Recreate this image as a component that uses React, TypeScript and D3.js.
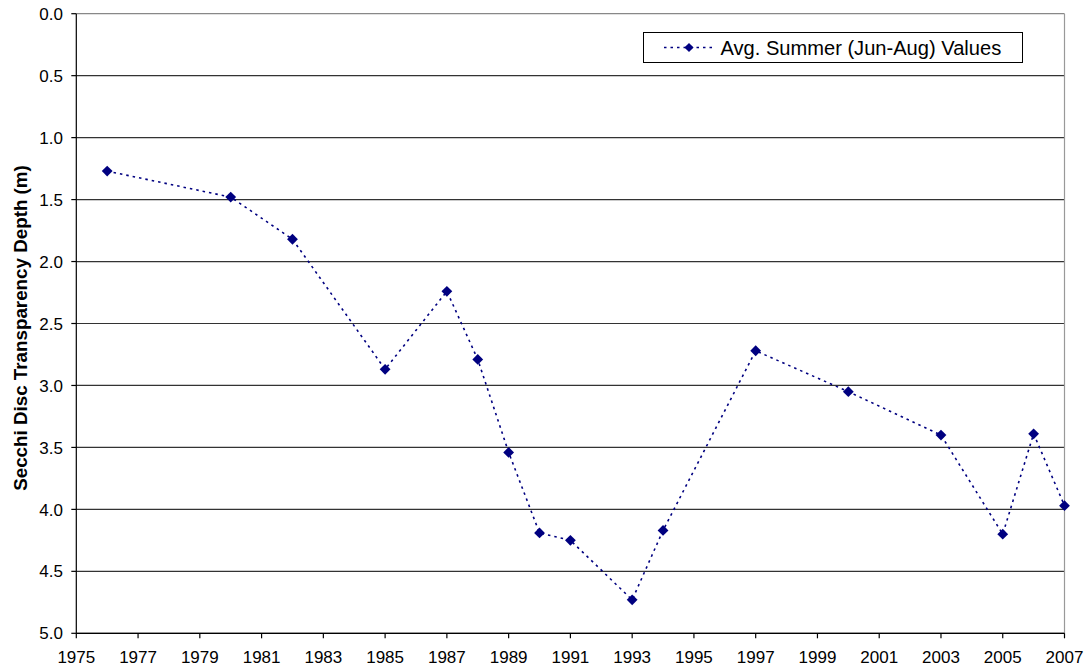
import React from "react";
import * as d3 from "d3";

const years = [1976, 1980, 1982, 1985, 1987, 1988, 1989, 1990, 1991, 1993, 1994, 1997, 2000, 2003, 2005, 2006, 2007];
const depths = [1.27, 1.48, 1.82, 2.87, 2.24, 2.79, 3.54, 4.19, 4.25, 4.73, 4.17, 2.72, 3.05, 3.4, 4.2, 3.39, 3.97];
const yTicks = [0, 0.5, 1, 1.5, 2, 2.5, 3, 3.5, 4, 4.5, 5];
const xTicks = [1975, 1977, 1979, 1981, 1983, 1985, 1987, 1989, 1991, 1993, 1995, 1997, 1999, 2001, 2003, 2005, 2007];
const seriesName = "Avg. Summer (Jun-Aug) Values";
const yTitle = "Secchi Disc Transparency Depth (m)";

const W = 1086, H = 669;
const left = 76.3, right = 1064.5, top = 13.7, bottom = 633.3;
const font = "'Liberation Sans', Arial, sans-serif";
const navy = "#000080";

export default function App() {
  const x = d3.scaleLinear().domain([1975, 2007]).range([left, right]);
  const y = d3.scaleLinear().domain([0, 5]).range([top, bottom]);
  const pts = years.map((yr, i) => [x(yr), y(depths[i])] as [number, number]);
  const line = d3.line()(pts) || "";
  const diamond = (cx: number, cy: number, r = 5.4) =>
    `M${cx},${cy - r}L${cx + r},${cy}L${cx},${cy + r}L${cx - r},${cy}Z`;

  return (
    <svg width={W} height={H} style={{ position: "fixed", left: 0, top: 0, background: "#fff" }} fontFamily={font}>
      {yTicks.map((t) => (
        <g key={t}>
          <line x1={left} x2={right} y1={y(t)} y2={y(t)} stroke={t === 0 ? "#888" : "#333"} strokeWidth={1.2} />
          <line x1={left - 5} x2={left} y1={y(t)} y2={y(t)} stroke="#000" strokeWidth={1.2} />
          <text x={63} y={y(t)} dy="0.36em" textAnchor="end" fontSize={17} fill="#000">
            {t.toFixed(1)}
          </text>
        </g>
      ))}
      <line x1={right} x2={right} y1={top} y2={bottom} stroke="#999" strokeWidth={1.2} />
      <line x1={left} x2={left} y1={top} y2={bottom} stroke="#000" strokeWidth={1.2} />
      <line x1={left} x2={right} y1={bottom} y2={bottom} stroke="#000" strokeWidth={1.2} />
      {xTicks.map((t) => (
        <g key={t}>
          <line x1={x(t)} x2={x(t)} y1={bottom} y2={bottom + 5} stroke="#000" strokeWidth={1.2} />
          <text x={x(t)} y={663} textAnchor="middle" fontSize={17} fill="#000">
            {t}
          </text>
        </g>
      ))}
      <text
        transform={`translate(26.5,328) rotate(-90)`}
        textAnchor="middle"
        fontSize={18.8}
        fontWeight="bold"
        fill="#000"
      >
        {yTitle}
      </text>
      <path d={line} fill="none" stroke={navy} strokeWidth={1.6} strokeDasharray="2.5,4" />
      {pts.map(([cx, cy], i) => (
        <path key={i} d={diamond(cx, cy)} fill={navy} />
      ))}
      <rect x={643.5} y={32.5} width={379} height={30} fill="#fff" stroke="#000" strokeWidth={1} />
      <line x1={664} x2={714} y1={47.5} y2={47.5} stroke={navy} strokeWidth={1.6} strokeDasharray="2.5,4" />
      <path d={diamond(689, 47.5, 4.6)} fill={navy} />
      <text x={720.5} y={47.5} dy="0.36em" fontSize={20.1} fill="#000">
        {seriesName}
      </text>
    </svg>
  );
}
